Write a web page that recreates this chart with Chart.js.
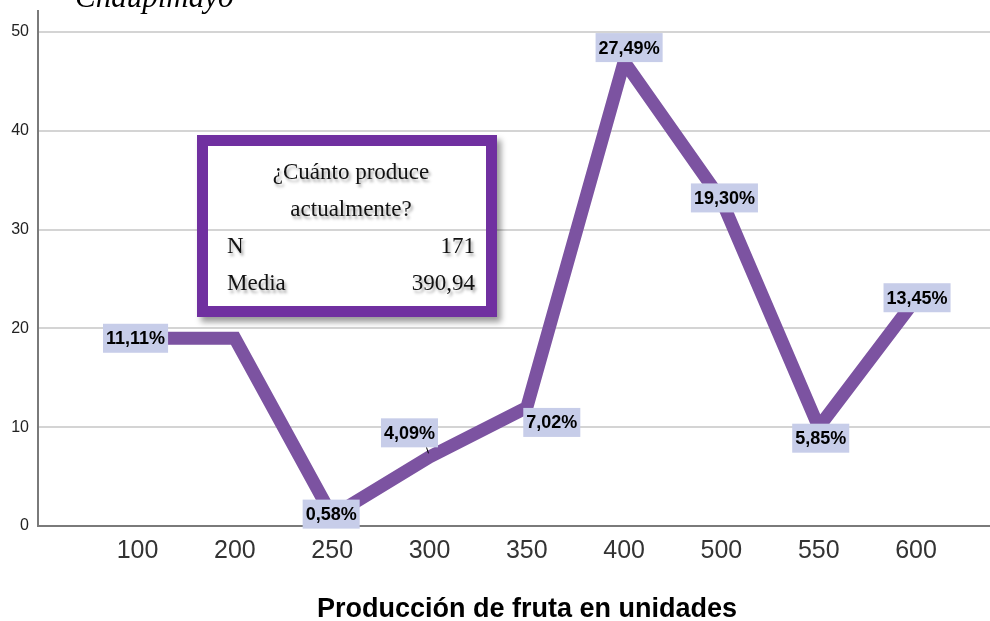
<!DOCTYPE html>
<html>
<head>
<meta charset="utf-8">
<script src="https://cdn.jsdelivr.net/npm/chart.js@4.4.1/dist/chart.umd.min.js"></script>
<style>
  html, body { margin: 0; padding: 0; background: #fff; overflow: hidden; }
  #wrap { position: relative; width: 990px; height: 621px; }
  #chart { position: absolute; left: 0; top: 0; }
  #heading {
    position: absolute; left: 75px; top: -19px;
    font: italic 31px "Liberation Serif", "Times New Roman", serif;
    line-height: 1; color: #000; white-space: nowrap;
  }
  #stats {
    position: absolute; left: 197px; top: 135px;
    width: 278px; height: 160px;
    border: 11px solid #7030A0;
    box-shadow: 4px 5px 6px rgba(0,0,0,0.4);
    font: 23px "Liberation Serif", "Times New Roman", serif;
    color: #111;
    text-shadow: 2px 3px 3px rgba(0,0,0,0.35);
  }
  #stats div { position: absolute; line-height: 37px; height: 37px; white-space: nowrap; }
  .hdr { left: 0; width: 286px; text-align: center; }
  .lbl { left: 19px; }
  .val { right: 11px; text-align: right; }
</style>
</head>
<body>
<div id="wrap">
  <canvas id="chart" width="990" height="621"></canvas>
  <div id="heading">Chaupimayo</div>
  <div id="stats">
    <div class="hdr" style="top:7px">¿Cuánto produce</div>
    <div class="hdr" style="top:44px">actualmente?</div>
    <div class="lbl" style="top:81px">N</div>
    <div class="val" style="top:81px">171</div>
    <div class="lbl" style="top:118px">Media</div>
    <div class="val" style="top:118px">390,94</div>
  </div>
</div>
<script>
// Fruit production categories (units) and number of producers in each
const categories = ['100', '200', '250', '300', '350', '400', '500', '550', '600'];
const counts = [19, 19, 1, 7, 12, 47, 33, 10, 23];
const yTicks = [0, 10, 20, 30, 40, 50];
const totalN = 171;
const xTitle = 'Producción de fruta en unidades';
// which points carry a percentage label
const labelShown = [true, false, true, true, true, true, true, true, true];
// label nudges in pixels relative to their point
const labelNudge = [[-2, 0], [0, 0], [-1, -2], [-20, -24], [25, 15], [5, -14], [3, -2], [2, 11], [1, -1]];

function pctText(v) {
  return (v / totalN * 100).toFixed(2).replace('.', ',') + '%';
}

const pctLabels = {
  id: 'pctLabels',
  afterDatasetsDraw(chart) {
    const ctx = chart.ctx;
    const meta = chart.getDatasetMeta(0);
    ctx.save();
    ctx.font = 'bold 18px "Liberation Sans", Arial, sans-serif';
    ctx.textAlign = 'center';
    ctx.textBaseline = 'middle';
    meta.data.forEach((pt, i) => {
      if (!labelShown[i]) return;
      const txt = pctText(counts[i]);
      const w = ctx.measureText(txt).width + 6;
      const h = 29;
      const cx = pt.x + labelNudge[i][0];
      const cy = pt.y + labelNudge[i][1];
      // short leader for the label lifted off its point
      if (i === 3) {
        ctx.strokeStyle = '#000';
        ctx.lineWidth = 1;
        ctx.beginPath();
        ctx.moveTo(cx + 17, cy + h / 2);
        ctx.lineTo(cx + 19, cy + h / 2 + 6);
        ctx.stroke();
      }
      ctx.fillStyle = '#C7CDE9';
      ctx.fillRect(cx - w / 2, cy - h / 2, w, h);
      ctx.fillStyle = '#000';
      ctx.fillText(txt, cx, cy + 1);
    });
    ctx.restore();
  }
};

// axis title for the category axis
const axisTitle = {
  id: 'axisTitle',
  afterDraw(chart) {
    const ctx = chart.ctx;
    ctx.save();
    ctx.font = 'bold 27px "Liberation Sans", Arial, sans-serif';
    ctx.fillStyle = '#000';
    ctx.textAlign = 'center';
    ctx.textBaseline = 'alphabetic';
    ctx.fillText(xTitle, 527, 617);
    ctx.restore();
  }
};

new Chart(document.getElementById('chart'), {
  type: 'line',
  data: {
    datasets: [{
      data: counts.map((v, i) => ({ x: i, y: v })),
      borderColor: '#7C53A1',
      borderWidth: 13,
      borderJoinStyle: 'miter',
      pointRadius: 0,
      tension: 0,
      fill: false
    }]
  },
  options: {
    responsive: false,
    animation: false,
    layout: { padding: { top: 0, right: 0, left: 0, bottom: 0 } },
    plugins: { legend: { display: false }, tooltip: { enabled: false } },
    scales: {
      x: {
        type: 'linear',
        min: -1.023,
        max: 8.76,
        afterBuildTicks: s => { s.ticks = categories.map((_, i) => ({ value: i })); },
        afterFit: s => { s.height = 95; },
        grid: { display: false, drawTicks: false },
        border: { color: '#7a7a7a', width: 2 },
        ticks: {
          padding: 10,
          color: '#333',
          font: { family: '"Liberation Sans", Arial, sans-serif', size: 25 },
          callback: v => categories[v]
        }
      },
      y: {
        min: 0,
        max: 52.12,
        afterBuildTicks: s => { s.ticks = yTicks.map(v => ({ value: v })); },
        afterFit: s => { s.width = 38; },
        grid: { color: '#d4d4d4', lineWidth: 2, drawTicks: false },
        border: { color: '#7a7a7a', width: 2 },
        ticks: {
          padding: 9,
          color: '#222',
          font: { family: '"Liberation Sans", Arial, sans-serif', size: 16, lineHeight: 0.25 }
        }
      }
    }
  },
  plugins: [pctLabels, axisTitle]
});
</script>
</body>
</html>
